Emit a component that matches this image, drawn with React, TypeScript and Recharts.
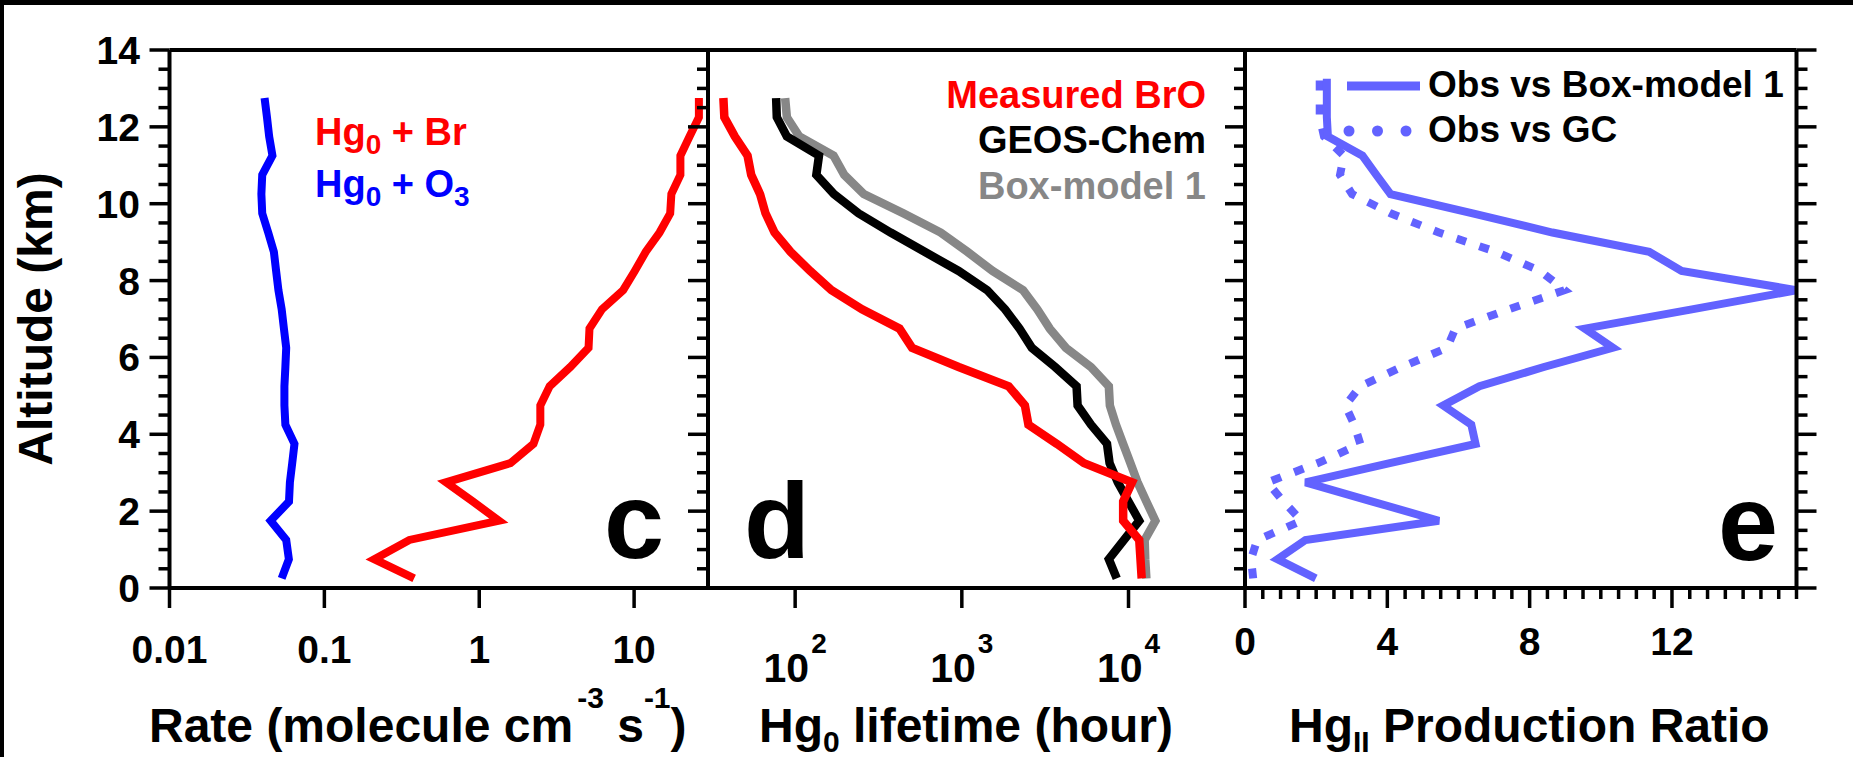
import React from 'react';
import { LineChart, Line, XAxis, YAxis, ReferenceLine } from 'recharts';

const FONT = '"Liberation Sans", Arial, Helvetica, sans-serif';

// ---- data -------------------------------------------------------------
// altitude levels (km) of the vertical profiles
const altitudeKm = [
  0.25, 0.75, 1.25, 1.75, 2.25, 2.75, 3.25, 3.75, 4.25, 4.75, 5.25, 5.75, 6.25,
  6.75, 7.25, 7.75, 8.25, 8.75, 9.25, 9.75, 10.25, 10.75, 11.25, 11.75, 12.25, 12.75,
];
const altitudeRatioKm = [
  0.25, 0.75, 1.25, 1.75, 2.25, 2.75, 3.25, 3.75, 4.25, 4.75, 5.25, 5.75, 6.25,
  6.75, 7.25, 7.75, 8.25, 8.75, 9.25, 9.75, 10.25, 10.75, 11.25, 11.75, 12.25, 12.75, 13.25,
];

// panel c: oxidation rates (molecule cm-3 s-1)
const rateHgBr = [
  0.38, 0.21, 0.354, 1.34, 0.91, 0.61, 1.59, 2.24, 2.48, 2.48, 2.85, 3.87, 5.08,
  5.15, 6.2, 8.5, 10.1, 11.9, 14.6, 17.1, 17.4, 19.9, 19.9, 22.8, 26.2, 26.2,
];
const rateHgO3 = [
  0.053, 0.059, 0.0567, 0.045, 0.0591, 0.0599, 0.062, 0.0641, 0.056, 0.0552, 0.0552, 0.056, 0.0567,
  0.0548, 0.053, 0.0505, 0.0488, 0.0472, 0.0434, 0.0397, 0.0392, 0.0397, 0.0462, 0.044, 0.0426, 0.0411,
];

// panel d: Hg0 lifetime (hour)
const lifetimeBrO = [
  12000, 11800, 11600, 9290, 9290, 10500, 5400, 3720, 2510, 2390, 1910, 957, 503,
  423, 252, 165, 123, 93.8, 75.2, 66.4, 61.6, 54.5, 51.8, 43.5, 37.6, 37.1,
];
const lifetimeGeosChem = [
  8500, 7620, 9400, 11600, 10000, 8630, 7700, 7430, 5960, 4950, 4880, 3630, 2630,
  2220, 1820, 1420, 957, 598, 374, 240, 171, 134, 139, 89.2, 77.6, 76.9,
];
const lifetimeBox1 = [
  12800, 12600, 12500, 14500, 12800, 11330, 10260, 9290, 8410, 7730, 7620, 5960, 4210,
  3370, 2840, 2330, 1530, 1080, 747, 445, 258, 197, 170, 106, 89.2, 87.1,
];

// panel e: HgII production ratio
const ratioObsBox1 = [
  1.99, 0.91, 1.7, 5.45, 3.58, 1.7, 4.07, 6.48, 6.36, 5.57, 6.59, 8.4, 10.34,
  9.55, 12.56, 15.5, 12.27, 11.36, 8.64, 6.4, 4.09, 3.69, 3.3, 2.33, 2.3, 2.3, 2.3,
];
const ratioObsGC = [
  0.23, 0.17, 0.34, 1.59, 1.08, 0.63, 2.05, 3.24, 3.07, 2.82, 3.24, 4.4, 5.68,
  5.91, 7.4, 8.98, 8.3, 7.05, 5.45, 4.09, 3.01, 2.67, 2.78, 2.22, 2.1, 2.1, 2.1,
];

// axis ticks
const altTicks = [
  0, 0.5, 1, 1.5, 2, 2.5, 3, 3.5, 4, 4.5, 5, 5.5, 6, 6.5, 7, 7.5, 8, 8.5, 9, 9.5,
  10, 10.5, 11, 11.5, 12, 12.5, 13, 13.5, 14,
];
const rateTicks = [0.01, 0.1, 1, 10];
const lifetimeTicks = [100, 1000, 10000];
const ratioTicks = [
  0, 0.5, 1, 1.5, 2, 2.5, 3, 3.5, 4, 4.5, 5, 5.5, 6, 6.5, 7, 7.5, 8, 8.5, 9, 9.5,
  10, 10.5, 11, 11.5, 12, 12.5, 13, 13.5, 14, 14.5, 15, 15.5,
];

const rateRows = altitudeKm.map((alt, i) => ({ alt, br: rateHgBr[i], o3: rateHgO3[i] }));
const lifetimeRows = altitudeKm.map((alt, i) => ({
  alt,
  bro: lifetimeBrO[i],
  gc: lifetimeGeosChem[i],
  box: lifetimeBox1[i],
}));
const ratioRows = altitudeRatioKm.map((alt, i) => ({ alt, box: ratioObsBox1[i], gc: ratioObsGC[i] }));

// ---- layout ------------------------------------------------------------
const W = 1853;
const H = 757;
const PLOT_TOP = 50;
const PLOT_BOTTOM = 588;
const X_AXIS_H = H - PLOT_BOTTOM;
const C_LEFT = 169.5;
const D_LEFT = 708;
const E_LEFT = 1245;
const E_RIGHT = 1796.5;

const AXIS_W = 4;
const TICK_W = 3.5;
const MAJOR = 20;
const MINOR = 11;

const RED = '#ff0000';
const BLUE = '#0000ff';
const GRAY = '#878787';
const PERI = '#6262ff';

const axisLine = { stroke: '#000', strokeWidth: AXIS_W };

function AltTick(props: any) {
  const { x, y, payload, side, labelled } = props;
  const v = payload.value as number;
  const major = v % 2 === 0;
  const dir = side === 'right' ? 1 : -1;
  return (
    <g>
      <line x1={x} x2={x + dir * (major ? MAJOR : MINOR)} y1={y} y2={y} stroke="#000" strokeWidth={TICK_W} />
      {labelled && major ? (
        <text x={x - 29.5} y={y + 14} textAnchor="end" fontFamily={FONT} fontWeight="bold" fontSize={39} fill="#000">
          {v}
        </text>
      ) : null}
    </g>
  );
}

function RateTick(props: any) {
  const { x, y, payload } = props;
  return (
    <g>
      <line x1={x} x2={x} y1={y} y2={y + MAJOR} stroke="#000" strokeWidth={TICK_W} />
      <text x={x} y={y + 75} textAnchor="middle" fontFamily={FONT} fontWeight="bold" fontSize={39} fill="#000">
        {String(payload.value)}
      </text>
    </g>
  );
}

function LifetimeTick(props: any) {
  const { x, y, payload } = props;
  const exp = Math.round(Math.log10(payload.value));
  return (
    <g>
      <line x1={x} x2={x} y1={y} y2={y + MAJOR} stroke="#000" strokeWidth={TICK_W} />
      <text x={x} y={y + 94} textAnchor="middle" fontFamily={FONT} fontWeight="bold" fontSize={41} fill="#000">
        10
        <tspan dx={2} dy={-29} fontSize={28}>
          {exp}
        </tspan>
      </text>
    </g>
  );
}

function RatioTick(props: any) {
  const { x, y, payload } = props;
  const v = payload.value as number;
  const major = v % 4 === 0;
  return (
    <g>
      <line x1={x} x2={x} y1={y} y2={y + (major ? MAJOR : MINOR)} stroke="#000" strokeWidth={TICK_W} />
      {major ? (
        <text x={x} y={y + 67} textAnchor="middle" fontFamily={FONT} fontWeight="bold" fontSize={39} fill="#000">
          {v}
        </text>
      ) : null}
    </g>
  );
}

const layer: React.CSSProperties = { position: 'absolute', left: 0, top: 0 };

function RatePanel() {
  return (
    <div style={layer}>
      <LineChart
        width={W}
        height={H}
        layout="vertical"
        data={rateRows}
        margin={{ top: PLOT_TOP, bottom: 0, left: C_LEFT - 100, right: W - D_LEFT }}
      >
        <XAxis
          type="number"
          scale="log"
          domain={[0.01, 30]}
          ticks={rateTicks}
          allowDataOverflow
          interval={0}
          height={X_AXIS_H}
          tickSize={0}
          tickMargin={0}
          tickLine={false}
          axisLine={axisLine}
          tick={(p: any) => <RateTick {...p} />}
        />
        <YAxis
          type="number"
          dataKey="alt"
          domain={[0, 14]}
          reversed
          ticks={altTicks}
          interval={0}
          width={100}
          tickSize={0}
          tickMargin={0}
          tickLine={false}
          axisLine={axisLine}
          tick={(p: any) => <AltTick {...p} side="left" labelled />}
        />
        <ReferenceLine y={14} stroke="#000" strokeWidth={AXIS_W} />
        <Line dataKey="o3" stroke={BLUE} strokeWidth={8} dot={false} isAnimationActive={false} />
        <Line dataKey="br" stroke={RED} strokeWidth={8} dot={false} isAnimationActive={false} />
      </LineChart>
    </div>
  );
}

function LifetimePanel() {
  return (
    <div style={layer}>
      <LineChart
        width={W}
        height={H}
        layout="vertical"
        data={lifetimeRows}
        margin={{ top: PLOT_TOP, bottom: 0, left: D_LEFT - 40, right: W - E_LEFT }}
      >
        <XAxis
          type="number"
          scale="log"
          domain={[30, 50000]}
          ticks={lifetimeTicks}
          allowDataOverflow
          interval={0}
          height={X_AXIS_H}
          tickSize={0}
          tickMargin={0}
          tickLine={false}
          axisLine={axisLine}
          tick={(p: any) => <LifetimeTick {...p} />}
        />
        <YAxis
          type="number"
          dataKey="alt"
          domain={[0, 14]}
          reversed
          ticks={altTicks}
          interval={0}
          width={40}
          tickSize={0}
          tickMargin={0}
          tickLine={false}
          axisLine={axisLine}
          tick={(p: any) => <AltTick {...p} side="left" />}
        />
        <ReferenceLine y={14} stroke="#000" strokeWidth={AXIS_W} />
        <Line dataKey="box" stroke={GRAY} strokeWidth={8.5} dot={false} isAnimationActive={false} />
        <Line dataKey="gc" stroke="#000" strokeWidth={8.5} dot={false} isAnimationActive={false} />
        <Line dataKey="bro" stroke={RED} strokeWidth={8.5} dot={false} isAnimationActive={false} />
      </LineChart>
    </div>
  );
}

function RatioPanel() {
  return (
    <div style={layer}>
      <LineChart
        width={W}
        height={H}
        layout="vertical"
        data={ratioRows}
        margin={{ top: PLOT_TOP, bottom: 0, left: E_LEFT - 40, right: W - E_RIGHT - 40 }}
      >
        <XAxis
          type="number"
          domain={[0, 15.5]}
          ticks={ratioTicks}
          allowDataOverflow
          interval={0}
          height={X_AXIS_H}
          tickSize={0}
          tickMargin={0}
          tickLine={false}
          axisLine={axisLine}
          tick={(p: any) => <RatioTick {...p} />}
        />
        <YAxis
          yAxisId="left"
          type="number"
          dataKey="alt"
          domain={[0, 14]}
          reversed
          ticks={altTicks}
          interval={0}
          width={40}
          tickSize={0}
          tickMargin={0}
          tickLine={false}
          axisLine={axisLine}
          tick={(p: any) => <AltTick {...p} side="left" />}
        />
        <YAxis
          yAxisId="right"
          orientation="right"
          type="number"
          dataKey="alt"
          domain={[0, 14]}
          reversed
          ticks={altTicks}
          interval={0}
          width={40}
          tickSize={0}
          tickMargin={0}
          tickLine={false}
          axisLine={axisLine}
          tick={(p: any) => <AltTick {...p} side="right" />}
        />
        <ReferenceLine yAxisId="left" y={14} stroke="#000" strokeWidth={AXIS_W} />
        <Line
          yAxisId="left"
          dataKey="gc"
          stroke={PERI}
          strokeWidth={8}
          strokeDasharray="10 14"
          dot={false}
          isAnimationActive={false}
        />
        <Line yAxisId="left" dataKey="box" stroke={PERI} strokeWidth={8} dot={false} isAnimationActive={false} />
      </LineChart>
    </div>
  );
}

const txt = { fontFamily: FONT, fontWeight: 'bold' as const };

function Annotations() {
  return (
    <svg width={W} height={H} style={{ ...layer, pointerEvents: 'none' }}>
      {/* frame edges */}
      <rect x={0} y={0} width={W} height={5} fill="#000" />
      <rect x={0} y={0} width={4} height={H} fill="#000" />

      {/* axis titles */}
      <text transform="translate(52,319) rotate(-90)" textAnchor="middle" fontSize={48} {...txt}>
        Altitude (km)
      </text>
      <text x={149} y={742} fontSize={48} {...txt}>
        Rate (molecule cm
        <tspan dx={4} dy={-34} fontSize={30}>
          -3
        </tspan>
        <tspan dy={34} fontSize={48}>
          {' s'}
        </tspan>
        <tspan dy={-34} fontSize={30}>
          -1
        </tspan>
        <tspan dy={34} fontSize={48}>
          )
        </tspan>
      </text>
      <text x={759} y={742} fontSize={48} {...txt}>
        Hg
        <tspan dy={10} fontSize={30}>
          0
        </tspan>
        <tspan dy={-10} fontSize={48}>
          {' lifetime (hour)'}
        </tspan>
      </text>
      <text x={1289} y={742} fontSize={48} {...txt}>
        Hg
        <tspan dy={10} fontSize={30}>
          II
        </tspan>
        <tspan dy={-10} fontSize={48}>
          {' Production Ratio'}
        </tspan>
      </text>

      {/* panel letters */}
      <text x={604} y={558} fontSize={108} {...txt}>
        c
      </text>
      <text x={744} y={558} fontSize={108} {...txt}>
        d
      </text>
      <text x={1718} y={560} fontSize={108} {...txt}>
        e
      </text>

      {/* panel c key */}
      <text x={315} y={145} fontSize={38} fill={RED} {...txt}>
        Hg
        <tspan dy={9} fontSize={28}>
          0
        </tspan>
        <tspan dy={-9} fontSize={38}>
          {' + Br'}
        </tspan>
      </text>
      <text x={315} y={197} fontSize={38} fill={BLUE} {...txt}>
        Hg
        <tspan dy={9} fontSize={28}>
          0
        </tspan>
        <tspan dy={-9} fontSize={38}>
          {' + O'}
        </tspan>
        <tspan dy={9} fontSize={28}>
          3
        </tspan>
      </text>

      {/* panel d key */}
      <text x={1206} y={108} textAnchor="end" fontSize={38} fill={RED} {...txt}>
        Measured BrO
      </text>
      <text x={1206} y={153} textAnchor="end" fontSize={38} fill="#000" {...txt}>
        GEOS-Chem
      </text>
      <text x={1206} y={199} textAnchor="end" fontSize={38} fill={GRAY} {...txt}>
        Box-model 1
      </text>

      {/* panel e key */}
      <line x1={1347} x2={1420} y1={86} y2={86} stroke={PERI} strokeWidth={9} />
      <circle cx={1349} cy={131} r={5.5} fill={PERI} />
      <circle cx={1377.5} cy={131} r={5.5} fill={PERI} />
      <circle cx={1406} cy={131} r={5.5} fill={PERI} />
      <text x={1428} y={97} fontSize={37} fill="#000" {...txt}>
        Obs vs Box-model 1
      </text>
      <text x={1428} y={142} fontSize={37} fill="#000" {...txt}>
        Obs vs GC
      </text>
    </svg>
  );
}

export default function App() {
  return (
    <div style={{ position: 'absolute', left: 0, top: 0, width: W, height: H, background: '#fff', overflow: 'hidden' }}>
      <RatePanel />
      <LifetimePanel />
      <RatioPanel />
      <Annotations />
    </div>
  );
}
